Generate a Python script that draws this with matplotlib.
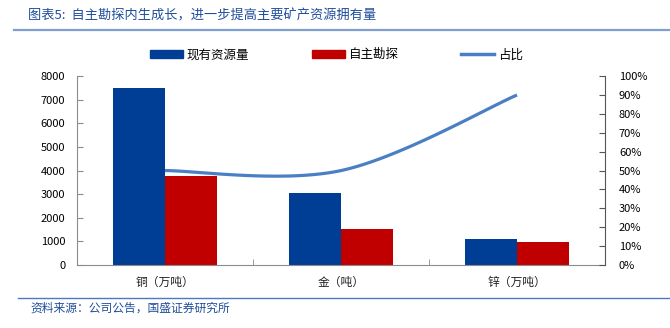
import numpy as np
import matplotlib.pyplot as plt
from matplotlib.lines import Line2D
from matplotlib.patches import Patch
from matplotlib.ticker import PercentFormatter, MultipleLocator

plt.rcParams['font.family'] = ['Noto Sans CJK SC', 'DejaVu Sans']

categories = ['铜（万吨）', '金（吨）', '锌（万吨）']
reserves = [7500, 3050, 1120]      # 现有资源量
exploration = [3750, 1530, 980]    # 自主勘探
share = [0.50, 0.50, 0.90]         # 占比

BLUE = '#003d94'
RED = '#c00000'
LINE = '#4a7fc4'
TEXT_BLUE = '#1f4e9a'
GRID = '#8c8c8c'


def smooth(xs, ys, sx, sy, n=60):
    # Bezier smoothing of a polyline, done in screen-like units so the curve
    # bends the same way the chart software draws it
    p = np.column_stack([np.asarray(xs, float) * sx, np.asarray(ys, float) * sy])
    ext = np.vstack([p[0], p, p[-1]])
    out = []
    t = np.linspace(0, 1, n)[:, None]
    for i in range(len(p) - 1):
        p0, p3 = ext[i + 1], ext[i + 2]
        c1 = p0 + (ext[i + 2] - ext[i]) / 6
        c2 = p3 - (ext[i + 3] - ext[i + 1]) / 6
        seg = (1 - t) ** 3 * p0 + 3 * (1 - t) ** 2 * t * c1 + 3 * (1 - t) * t ** 2 * c2 + t ** 3 * p3
        out.append(seg if i == 0 else seg[1:])
    out = np.vstack(out)
    return out[:, 0] / sx, out[:, 1] / sy


fig = plt.figure(figsize=(6.7, 3.28), dpi=100)
ax = fig.add_axes([0.115, 0.192, 0.788, 0.576])

x = np.arange(len(categories))
w = 0.296
ax.bar(x - w / 2, reserves, width=w, color=BLUE, label='现有资源量')
ax.bar(x + w / 2, exploration, width=w, color=RED, label='自主勘探')

ax.set_xlim(-0.5, len(categories) - 0.5)
ax.set_ylim(0, 8000)
ax.yaxis.set_major_locator(MultipleLocator(1000))
ax.set_xticks(x)
ax.set_xticklabels(categories, fontsize=8.5, color='#222222')
ax.set_xticks(np.arange(len(categories) + 1) - 0.5, minor=True)
ax.tick_params(axis='x', which='major', length=0, pad=8)
ax.tick_params(axis='x', which='minor', length=4, direction='in', color=GRID)
ax.tick_params(axis='y', direction='in', length=4, color=GRID, labelsize=8, pad=8.5)

for s in ['top', 'right']:
    ax.spines[s].set_visible(False)
for s in ['left', 'bottom']:
    ax.spines[s].set_color(GRID)
    ax.spines[s].set_linewidth(0.8)

ax2 = ax.twinx()
ax2.set_ylim(0, 1)
ax2.yaxis.set_major_locator(MultipleLocator(0.1))
ax2.yaxis.set_major_formatter(PercentFormatter(1.0, decimals=0))
ax2.tick_params(axis='y', direction='in', length=4, color='#555555', labelsize=8, pad=10)
for s in ['top', 'left', 'bottom']:
    ax2.spines[s].set_visible(False)
ax2.spines['right'].set_color('#555555')
ax2.spines['right'].set_linewidth(0.8)

sx_, sy_ = smooth(x, share, 176, 190)
ax2.plot(sx_, sy_, color=LINE, lw=2.3, solid_capstyle='butt')

handles = [Patch(color=BLUE), Patch(color=RED), Line2D([], [], color=LINE, lw=2.5)]
fig.legend(handles, ['现有资源量', '自主勘探', '占比'], loc='center left',
           bbox_to_anchor=(0.207, 0.833), ncol=3, frameon=False, fontsize=9,
           handlelength=2.65, handleheight=0.65, handletextpad=0.3, columnspacing=5.0)

# title and source lines
fig.text(0.042, 0.952, '图表5:  自主勘探内生成长，进一步提高主要矿产资源拥有量',
         fontsize=9.5, color=TEXT_BLUE, va='center', ha='left')
fig.add_artist(Line2D([0.021, 1.0], [0.909, 0.909], color='#7f9fcf', lw=1.6))
fig.add_artist(Line2D([0.027, 1.0], [0.092, 0.092], color='#4f79bd', lw=1.0))
fig.text(0.045, 0.062, '资料来源：公司公告，国盛证券研究所',
         fontsize=8.5, color=TEXT_BLUE, va='center', ha='left')

fig.savefig('out.png', dpi=100)
